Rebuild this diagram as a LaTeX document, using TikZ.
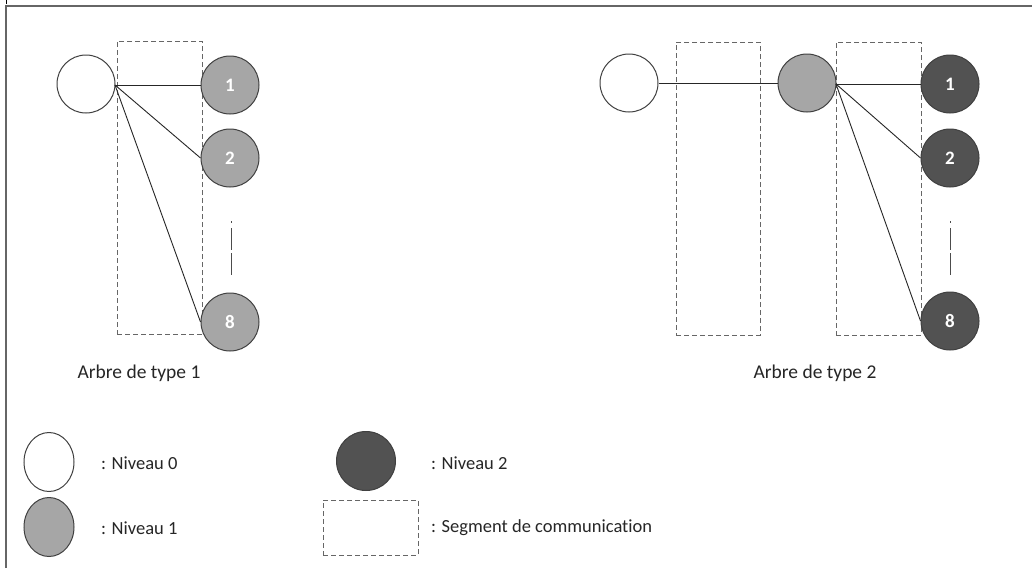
\documentclass[tikz,border=0pt]{standalone}
\usepackage{fontspec}
\setmainfont[Ligatures={NoCommon}]{Carlito}
\usetikzlibrary{shapes.geometric}
\begin{document}
\begin{tikzpicture}[x=1pt,y=-1pt,
  lvl/.style={circle,draw=black!75,line width=1pt,minimum size=58pt,inner sep=0pt,
    text=white,font=\fontsize{19}{22}\selectfont\bfseries},
  lvlzero/.style={lvl,fill=white},
  lvlone/.style={lvl,fill=black!35},
  lvltwo/.style={lvl,fill=black!68},
  seg/.style={draw=black!60,line width=1pt,dash pattern=on 5pt off 3pt},
  link/.style={draw=black!85,line width=0.9pt},
  dotline/.style={draw=black!70,line width=1pt,dash pattern=on 2pt off 5pt on 22pt off 3pt on 22pt},
  lbl/.style={font=\fontsize{19.5}{22}\selectfont,text=black!85,inner sep=0pt},
  leg/.style={font=\fontsize{18.5}{21}\selectfont,text=black!85,inner sep=0pt,anchor=west}]
\useasboundingbox (0,0) rectangle (1032,568);
\fill[white] (0,0) rectangle (1032,568);
% frame
\draw[black!60,line width=1.6pt] (6,568) -- (6,6) -- (1032,6);
\draw[black,line width=1pt] (6,0) -- (6,4);

% ---------- Arbre de type 1 ----------
\node[seg,draw,rectangle,minimum width=85pt,minimum height=293pt,inner sep=0pt] (s1) at (159.5,187.5) {};
\node[lvlzero] (a0) at (86,84) {};
\node[lvlone] (a1) at (230,85) {1};
\node[lvlone] (a2) at (230,158) {2};
\node[lvlone] (a8) at (230,322) {8};
\coordinate (a0e) at (115,85);
\draw[link] (a0e) -- (a1.west);
\draw[link] (a0e) -- (a2.west);
\draw[link] (a0e) -- (a8.west);
\coordinate (d1a) at (231,221);
\coordinate (d1b) at (231,275);
\draw[dotline] (d1a) -- (d1b);
\node[lbl] (t1) at (139,373) {Arbre de type 1};

% ---------- Arbre de type 2 ----------
\node[seg,draw,rectangle,minimum width=84pt,minimum height=293pt,inner sep=0pt] (s2) at (718,188.5) {};
\node[seg,draw,rectangle,minimum width=85pt,minimum height=293pt,inner sep=0pt] (s3) at (878.5,188.5) {};
\node[lvlzero] (b0) at (629,83) {};
\node[lvlone] (b1) at (807,83) {};
\node[lvltwo] (c1) at (950,84) {1};
\node[lvltwo] (c2) at (950,158) {2};
\node[lvltwo] (c8) at (950,321) {8};
\draw[link] (b0.east) -- (b1.west);
\coordinate (b1e) at (836,84);
\draw[link] (b1e) -- (c1.west);
\draw[link] (b1e) -- (c2.west);
\draw[link] (b1e) -- (c8.west);
\coordinate (d2a) at (950,221);
\coordinate (d2b) at (950,275);
\draw[dotline] (d2a) -- (d2b);
\node[lbl] (t2) at (815,373) {Arbre de type 2};

% ---------- Legend ----------
\node[lvlzero,ellipse,minimum width=50pt,minimum height=59pt] (l0) at (49,462) {};
\node[lvlone,ellipse,minimum width=50pt,minimum height=59pt] (l1) at (49,527) {};
\node[lvltwo,minimum size=59pt] (l2) at (366,461) {};
\node[seg,draw,rectangle,minimum width=95pt,minimum height=55pt,inner sep=0pt] (l3) at (370.5,527.5) {};
\node[leg] (tl0) at (101,463) {: Niveau 0};
\node[leg] (tl1) at (101,528) {: Niveau 1};
\node[leg] (tl2) at (431,463) {: Niveau 2};
\node[leg] (tl3) at (431,528) {: Segment de communication};
\end{tikzpicture}
\end{document}
